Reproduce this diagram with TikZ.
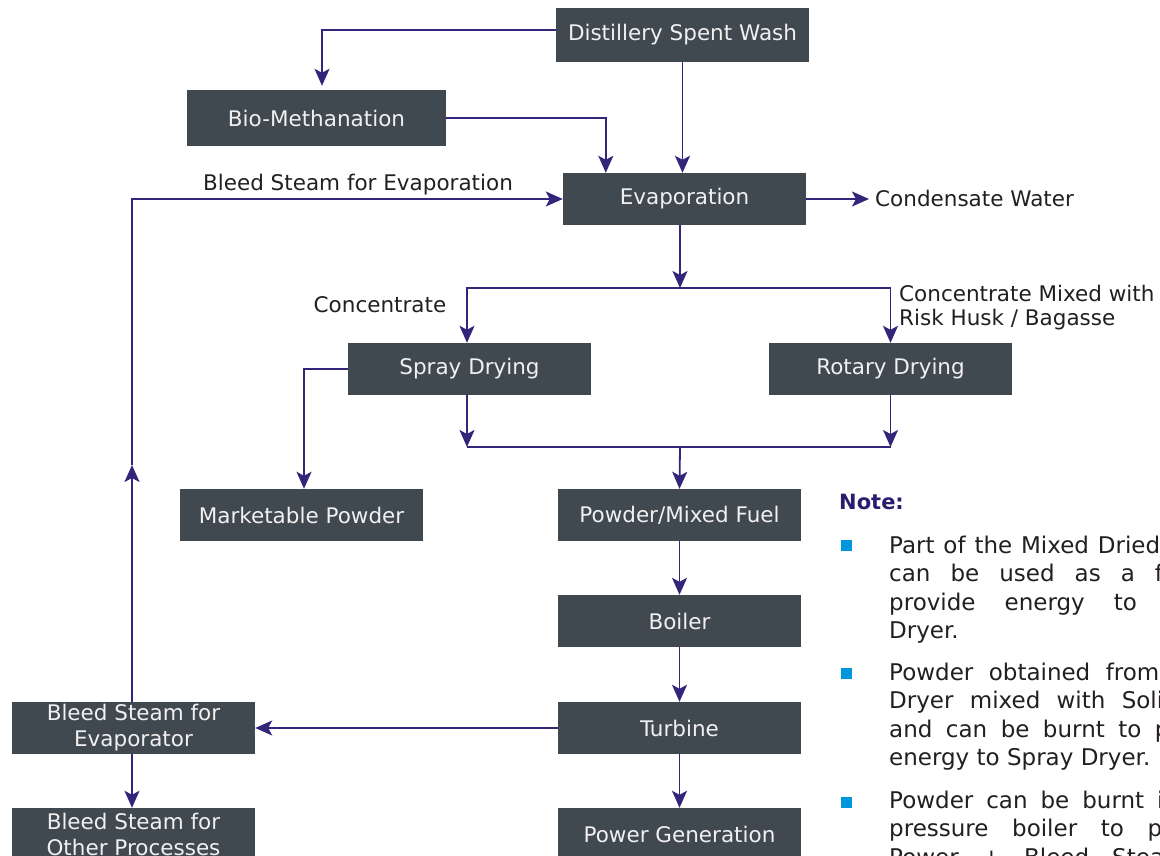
\documentclass[tikz,border=0pt]{standalone}
\usepackage{fontspec}
\setmainfont{DejaVu Sans}
\usetikzlibrary{arrows.meta,calc}
\definecolor{boxc}{RGB}{64,72,80}
\definecolor{linec}{RGB}{52,36,122}
\definecolor{txtc}{RGB}{35,31,32}
\definecolor{notec}{RGB}{43,28,110}
\definecolor{bulc}{RGB}{0,150,220}
\begin{document}
\begin{tikzpicture}[x=1pt,y=-1pt,
  box/.style={fill=boxc,text=white!94!black,minimum width=243pt,minimum height=52pt,inner sep=0pt,align=center,font=\fontsize{21.5}{26}\selectfont},
  lbl/.style={text=txtc,inner sep=0pt,font=\fontsize{21.5}{24}\selectfont},
  conn/.style={draw=linec,line width=1.8pt},
  arr/.style={conn,-{Stealth[length=17pt,width=15pt,inset=4pt]}},
  notetxt/.style={text=txtc,inner sep=0pt,anchor=base west,font=\fontsize{23}{28}\selectfont},
  bullet/.style={fill=bulc,minimum size=11pt,inner sep=0pt}]
\useasboundingbox (0,0) rectangle (1160,856);
% boxes
\node[box,minimum width=253pt,minimum height=54pt] (dsw) at (682.5,35) {Distillery Spent Wash};
\node[box,minimum width=259pt,minimum height=56pt] (bio) at (316.5,118) {Bio-Methanation};
\node[box] (evap) at (684.5,199) {Evaporation};
\node[box] (spray) at (469.5,369) {Spray Drying};
\node[box] (rotary) at (890.5,369) {Rotary Drying};
\node[box] (mkt) at (301.5,515) {Marketable Powder};
\node[box] (pmf) at (679.5,515) {Powder/Mixed Fuel};
\node[box] (boiler) at (679.5,621) {Boiler};
\node[box] (turb) at (679.5,728) {Turbine};
\node[box] (power) at (679.5,834) {Power Generation};
\node[box] (bse) at (133.5,728) {Bleed Steam for\\Evaporator};
\node[box] (bso) at (133.5,834) {Bleed Steam for\\Other Processes};
% labels
\node[lbl] (lbse) at (358,185) {Bleed Steam for Evaporation};
\node[lbl,anchor=west] (cw) at (875,198) {Condensate Water};
\node[lbl] (lconc) at (380,305) {Concentrate};
\node[lbl,anchor=west,align=left] (lmix) at (899,308) {Concentrate Mixed with\\Risk Husk / Bagasse};
% connectors
\draw[arr] ([yshift=5pt]dsw.west) -| ([xshift=5.5pt,yshift=4pt]bio.north);
\draw[arr] (dsw.south) -- (dsw.south |- evap.north);
\draw[arr] (bio.east) -| ([xshift=43pt]evap.north west);
\coordinate (up) at ([xshift=-1.5pt]bse.north |- 0,465);
\draw[arr] ([xshift=-1.5pt]bse.north) -- (up);
\draw[arr] (up) |- (evap.west);
\draw[arr] (evap.east) -- ([xshift=-6pt]evap.east -| cw.west);
\coordinate (j1) at (680,288);
\draw[arr] ([xshift=-4.5pt]evap.south) -- (j1);
\draw[arr] (j1) -| ([xshift=-2.5pt]spray.north);
\draw[arr] (j1) -| (rotary.north);
\draw[arr] (spray.west) -| ([xshift=2.5pt]mkt.north);
\coordinate (j2) at (680,447);
\draw[arr] ([xshift=-2.5pt]spray.south) -- ([xshift=-2.5pt]spray.south |- j2);
\draw[arr] (rotary.south) -- (rotary.south |- j2);
\draw[conn] ([xshift=-2.5pt]spray.south |- j2) -- (rotary.south |- j2);
\draw[arr] (j2) -- (pmf.north);
\draw[arr] (pmf.south) -- (boiler.north);
\draw[arr] (boiler.south) -- (turb.north);
\draw[arr] (turb.south) -- (power.north);
\draw[arr] (turb.west) -- (bse.east);
\draw[arr] ([xshift=-1.5pt]bse.south) -- ([xshift=-1.5pt]bso.north);
% note
\node[anchor=west,inner sep=0pt,text=notec,font=\fontsize{21}{24}\bfseries\selectfont] (note) at (839,502) {Note:};
\begin{scope}
\clip (0,0) rectangle (1160,856);
\node[bullet] (b1) at (846,545.5) {};
\node[bullet] (b2) at (846,673.5) {};
\node[bullet] (b3) at (846,802.5) {};
\node[notetxt] (n1) at (889,553) {\makebox[364pt][s]{Part of the Mixed Dried Powder}};
\node[notetxt] (n2) at (889,581.5) {\makebox[352pt][s]{can be used as a fuel to}};
\node[notetxt] (n3) at (889,610) {\makebox[352pt][s]{provide energy to Rotary}};
\node[notetxt] (n4) at (889,638.5) {Dryer.};
\node[notetxt] (n5) at (889,680) {\makebox[352pt][s]{Powder obtained from Spray}};
\node[notetxt] (n6) at (889,708.5) {\makebox[352pt][s]{Dryer mixed with Solid Fuel}};
\node[notetxt] (n7) at (889,737) {\makebox[352pt][s]{and can be burnt to provide}};
\node[notetxt] (n8) at (889,765.5) {energy to Spray Dryer.};
\node[notetxt] (n9) at (889,808) {\makebox[352pt][s]{Powder can be burnt in high}};
\node[notetxt] (n10) at (889,836.5) {\makebox[352pt][s]{pressure boiler to produce}};
\node[notetxt] (n11) at (889,865) {\makebox[352pt][s]{Power + Bleed Steam for}};
\end{scope}
\end{tikzpicture}
\end{document}
